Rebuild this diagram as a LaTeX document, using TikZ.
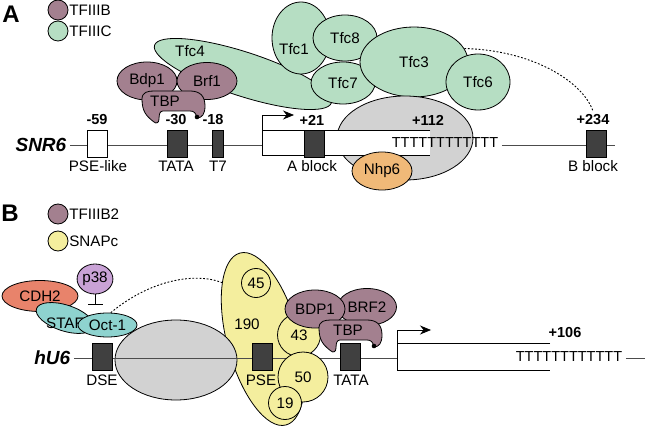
\documentclass[tikz,border=0pt]{standalone}
\usepackage{fontspec}
\setmainfont{Liberation Sans}
\usetikzlibrary{shapes.geometric,arrows.meta}

\definecolor{tfb}{HTML}{A3808F}
\definecolor{tfc}{HTML}{B6DEC3}
\definecolor{grayblob}{HTML}{D2D2D2}
\definecolor{nhp}{HTML}{F0B978}
\definecolor{snap}{HTML}{F4EE9E}
\definecolor{cdh}{HTML}{E8836B}
\definecolor{pkin}{HTML}{C9A2D6}
\definecolor{octc}{HTML}{8ED3CF}
\definecolor{darkbox}{HTML}{404040}

% saddle of TBP, origin at the left corner of the notch
\tikzset{
  tbp/.pic={
    \filldraw[fill=tfb] (-18,-12) .. controls (-18,-19) and (-12,-20) .. (-6,-20) -- (30,-20)
      .. controls (40,-20) and (45,-15) .. (45,-5) .. controls (45,3) and (42,7) .. (37,7)
      .. controls (36,2) and (34,0) .. (30,0) -- (3,0) .. controls (0,0) and (-1,3) .. (-1,8)
      .. controls (-1,12) and (-4,13) .. (-6,11) .. controls (-14,5) and (-18,0) .. (-18,-12) -- cycle;
    \fill[black] (37,6) circle (2.3);
  }
}

\begin{document}
\begin{tikzpicture}[x=1pt,y=-1pt,line width=0.8pt,
  every node/.style={font=\fontsize{15.2}{17}\selectfont},
  blob/.style={ellipse,draw,inner sep=0pt},
  ring/.style={circle,draw,inner sep=0pt},
  elem/.style={draw,fill=darkbox,inner sep=0pt,minimum width=20,minimum height=27},
  posn/.style={font=\fontsize{14.5}{17}\selectfont\bfseries},
  gene/.style={font=\fontsize{19}{20}\selectfont\bfseries\itshape,anchor=east},
  panel/.style={font=\fontsize{24}{24}\selectfont\bfseries},
  legend/.style={font=\fontsize{15.2}{17}\selectfont,anchor=west,inner sep=0.5pt},
  polyt/.style={font=\fontsize{14.5}{17}\selectfont},
  dna/.style={draw=black!70,line width=0.8pt},
  dotline/.style={dash pattern=on 1.8pt off 1.8pt,line width=0.9pt},
  tss/.style={-{Stealth[length=11pt,width=9pt]}}]
  \useasboundingbox (0,0) rectangle (647,427);

  % panel A
  \node[panel] (labA) at (11,14) {A};
  \node[ring,fill=tfb,minimum size=20] (keyB) at (58,10) {};
  \node[legend] (keyBt) at (keyB.east) {TFIIIB};
  \node[ring,fill=tfc,minimum size=20] (keyC) at (58,31) {};
  \node[legend] (keyCt) at (keyC.east) {TFIIIC};

  \node[blob,fill=tfc,rotate=-18,minimum width=186,minimum height=44] (tfc4) at (243,74) {};
  \node (tfc4t) at (190,51) {Tfc4};
  \node[blob,fill=tfc,minimum width=58,minimum height=72] (tfc1) at (301,38) {};
  \node (tfc1t) at (294,49) {Tfc1};
  \node[blob,fill=tfc,minimum width=64,minimum height=46] (tfc8) at (345,38) {Tfc8};
  \node[blob,fill=tfc,minimum width=64,minimum height=42] (tfc7) at (343,83) {Tfc7};
  \node[blob,fill=tfc,minimum width=108,minimum height=70] (tfc3) at (414,62) {Tfc3};
  \node[blob,fill=tfc,minimum width=64,minimum height=56] (tfc6) at (478,82) {Tfc6};

  \node[blob,fill=tfb,minimum width=60,minimum height=38] (bdp1) at (147,81) {Bdp1};
  \node[blob,fill=tfb,minimum width=60,minimum height=37] (brf1) at (207,81) {Brf1};
  \pic (tbpA) at (160,111) {tbp};
  \node (tbpAt) at (165,101) {TBP};

  \node[blob,fill=grayblob,minimum width=136,minimum height=84] (rnapA) at (405,138) {};
  \fill[white] (262,130) rectangle (430,155);
  \draw (430,130) -- (262,130) -- (262,155) -- (430,155);
  \node[blob,fill=nhp,minimum width=60,minimum height=38] (nhp6) at (382,171) {Nhp6};
  \node[polyt] (polyTA) at (445,143) {TTTTTTTTTTTT};

  \node[gene] (snr6) at (70,145) {SNR6};
  \coordinate (tssA) at (262,130);
  \coordinate (tssAend) at (294,115);
  \coordinate (endA) at (615,145);
  \draw[dna] (snr6) -- (tssA |- snr6);
  \draw[dna] (polyTA.east |- endA) -- (endA);
  \draw[tss] (tssA) |- (tssAend);

  \node[elem,fill=white] (pseA) at (97,143.5) {};
  \node[elem] (tataA) at (177,143.5) {};
  \node[elem,minimum width=11] (t7) at (217.5,143.5) {};
  \node[elem] (ablock) at (314.5,143.5) {};
  \node[elem] (bblock) at (596,143.5) {};

  \node[posn] (m59) at (97,120) {-59};
  \node[posn] (m30) at (176,120) {-30};
  \node[posn] (m18) at (213,120) {-18};
  \node[posn] (p21) at (312,120) {+21};
  \node[posn] (p112) at (428,120) {+112};
  \node[posn] (p234) at (593,120) {+234};
  \node (pseAt) at (98,166) {PSE-like};
  \node (tataAt) at (176,166) {TATA};
  \node (t7t) at (218,166) {T7};
  \node (ablockt) at (312,166) {A block};
  \node (bblockt) at (593,166) {B block};

  \draw[dotline] (tfc3.15) .. controls (530,50) and (582,80) .. (p234.north);

  % panel B
  \node[panel] (labB) at (10,213) {B};
  \node[ring,fill=tfb,minimum size=20] (keyB2) at (58,214) {};
  \node[legend] (keyB2t) at (keyB2.east) {TFIIIB2};
  \node[ring,fill=snap,minimum size=20] (keySn) at (58,241) {};
  \node[legend] (keySnt) at (keySn.east) {SNAPc};

  \node[blob,fill=cdh,minimum width=76,minimum height=31] (cdh2) at (40,296) {CDH2};
  \node[blob,fill=octc,rotate=-18,minimum width=60,minimum height=26] (staf) at (65,318) {};
  \node (staft) at (65,323) {STAF};
  \node[blob,fill=octc,minimum width=59,minimum height=24] (oct1) at (107.5,325) {Oct-1};
  \node[blob,fill=pkin,minimum width=34,minimum height=30] (p38) at (95,279) {p38};
  \draw[-{Bar[width=15pt]},shorten >=8pt] (p38) -- (p38 |- oct1.north);

  \node[blob,fill=snap,rotate=15,minimum width=72,minimum height=178] (snap190) at (263,339) {};
  \node[blob,fill=grayblob,minimum width=122,minimum height=80] (rnapB) at (176,360) {};
  \node (s190t) at (247,324) {190};

  \node[gene] (hu6) at (74,358) {hU6};
  \coordinate (geneB) at (397,358);
  \draw[dna] (hu6) -- (geneB);
  \node[elem] (dse) at (102,356.5) {};
  \node[elem] (pseB) at (262,356.5) {};
  \node[elem] (tataB) at (350.5,356.5) {};

  \node[ring,fill=snap,minimum size=29] (s45) at (256,283) {45};
  \node[ring,fill=snap,minimum size=43] (s43) at (299,335) {43};
  \node[ring,fill=snap,minimum size=50] (s50) at (303,377) {50};
  \node[ring,fill=snap,minimum size=33] (s19) at (285,403) {19};

  \node[blob,fill=tfb,minimum width=59,minimum height=37] (brf2) at (367,307) {BRF2};
  \node[blob,fill=tfb,minimum width=60,minimum height=38] (bdp1b) at (315,309) {BDP1};
  \pic (tbpB) at (337,340) {tbp};
  \node (tbpBt) at (348,330) {TBP};

  \node (dset) at (102,380) {DSE};
  \node (pseBt) at (261,380) {PSE};
  \node (tataBt) at (351,380) {TATA};

  \coordinate (tssB) at (397,330);
  \coordinate (tssBend) at (431,330);
  \draw (550,343) -- (397,343);
  \draw (397,330) -- (397,370) -- (550,370);
  \draw[tss] (tssB) -- (tssBend);
  \node[posn] (p106) at (565,333) {+106};
  \node[polyt] (polyTB) at (569,357) {TTTTTTTTTTTT};
  \coordinate (endB) at (645,358);
  \draw[dna] (polyTB.east |- endB) -- (endB);

  \draw[dotline] (oct1.75) .. controls (150,280) and (195,272) .. (snap190.111);
\end{tikzpicture}
\end{document}
